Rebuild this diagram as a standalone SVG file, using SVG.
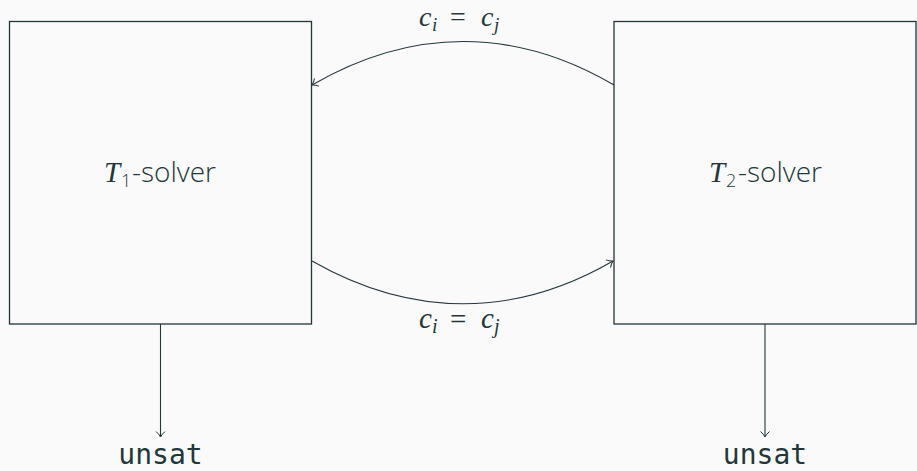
<svg xmlns="http://www.w3.org/2000/svg" width="917" height="471" viewBox="0 0 917 471">
<style>
.box{fill:none;stroke:#23373b;stroke-width:1.3}
.edge{fill:none;stroke:#23373b;stroke-width:1.1}
.math{font-family:'Liberation Serif','Times New Roman','DejaVu Serif',serif;font-style:italic;fill:#23373b}
.rm{font-family:'Liberation Serif','Times New Roman','DejaVu Serif',serif;fill:#23373b}
.sans{font-family:'Open Sans','Noto Sans',sans-serif;font-weight:300;fill:#23373b}
.mono{font-family:'DejaVu Sans Mono','Liberation Mono',monospace;fill:#23373b}
</style>
<defs>
<marker id="arr" markerWidth="12" markerHeight="12" refX="8" refY="6" orient="auto" markerUnits="userSpaceOnUse">
<path d="M2.5,1.5 Q5,4.5 8,6 Q5,7.5 2.5,10.5" fill="none" stroke="#23373b" stroke-width="1"/>
</marker>
</defs>
<rect width="917" height="471" fill="#fafafa"/>
<g id="t1">
<rect class="box" x="9.5" y="21.5" width="302" height="302.5"/>
<text class="math" x="104" y="182" font-size="29">T</text>
<text class="sans" x="121" y="187" font-size="18">1</text>
<text class="sans" x="132" y="182" font-size="28">-solver</text>
</g>
<g id="t2">
<rect class="box" x="614" y="21.5" width="302" height="302.5"/>
<text class="math" x="709" y="182" font-size="29">T</text>
<text class="sans" x="726" y="187" font-size="18">2</text>
<text class="sans" x="738" y="182" font-size="28">-solver</text>
</g>
<g id="unsat1"><text class="mono" x="160.5" y="464" font-size="28" text-anchor="middle">unsat</text></g>
<g id="unsat2"><text class="mono" x="765" y="464" font-size="28" text-anchor="middle">unsat</text></g>
<g id="connectors">
<path class="edge" d="M614,85 C515,27 412,27 312,85" marker-end="url(#arr)"/>
<path class="edge" d="M312,261 C412,318 515,318 613,261" marker-end="url(#arr)"/>
<path class="edge" d="M160.5,324 L160.5,437" marker-end="url(#arr)"/>
<path class="edge" d="M765,324 L765,437" marker-end="url(#arr)"/>
</g>
<g id="labels">
<text class="math" font-size="28"><tspan x="419" y="26">c</tspan><tspan x="432" y="31" font-size="19">i</tspan></text>
<text class="rm" font-size="28" x="450" y="26">=</text>
<text class="math" font-size="28"><tspan x="481" y="26">c</tspan><tspan x="494" y="31" font-size="19">j</tspan></text>
<text class="math" font-size="29"><tspan x="419" y="328">c</tspan><tspan x="432" y="333" font-size="20">i</tspan></text>
<text class="rm" font-size="29" x="450" y="329">=</text>
<text class="math" font-size="29"><tspan x="481" y="328">c</tspan><tspan x="494" y="333" font-size="20">j</tspan></text>
</g>
</svg>
